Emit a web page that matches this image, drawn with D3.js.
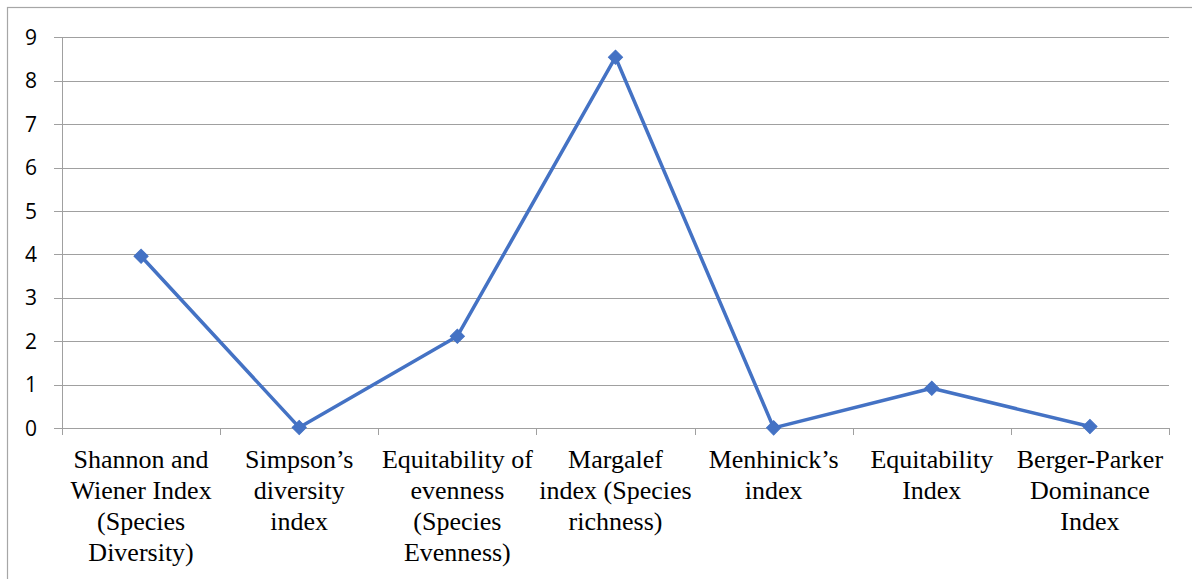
<!DOCTYPE html>
<html>
<head>
<meta charset="utf-8">
<script src="https://cdn.jsdelivr.net/npm/d3@7"></script>
<style>
  html, body { margin: 0; padding: 0; background: #fff; }
  svg { display: block; }
  .cat-label { font-family: "Liberation Serif", "DejaVu Serif", "Times New Roman", Times, serif; }
  .y-label { font-family: "Open Sans", "Liberation Sans", sans-serif; }
</style>
</head>
<body>
<svg id="chart" width="1192" height="579"></svg>
<script>
// Diversity indices and their computed values
const categories = [
  ["Shannon and", "Wiener Index", "(Species", "Diversity)"],
  ["Simpson\u2019s", "diversity", "index"],
  ["Equitability of", "evenness", "(Species", "Evenness)"],
  ["Margalef", "index (Species", "richness)"],
  ["Menhinick\u2019s", "index"],
  ["Equitability", "Index"],
  ["Berger-Parker", "Dominance", "Index"]
];
const values = [3.96, 0.02, 2.12, 8.54, 0.01, 0.92, 0.04];
const yTicks = [0, 1, 2, 3, 4, 5, 6, 7, 8, 9];

const svg = d3.select("#chart");
const W = 1192, H = 579;
const plot = { left: 62, right: 1169, top: 37.2, bottom: 428.3 };

// outer frame (left and top edges visible)
svg.append("rect")
  .attr("x", 7.5).attr("y", 7.5)
  .attr("width", W + 10).attr("height", H + 10)
  .attr("fill", "none").attr("stroke", "#a6a6a6").attr("stroke-width", 1.2);

const idx = categories.map((d, i) => i);
const x = d3.scaleBand().domain(idx).range([plot.left, plot.right]);
const y = d3.scaleLinear().domain([0, 9]).range([plot.bottom, plot.top]);

// horizontal gridlines with small tick stubs to the left of the axis
svg.append("g")
  .selectAll("line")
  .data(yTicks)
  .join("line")
  .attr("x1", plot.left - 8).attr("x2", plot.right)
  .attr("y1", d => Math.round(y(d)) + 0.5).attr("y2", d => Math.round(y(d)) + 0.5)
  .attr("stroke", "#a0a0a0").attr("stroke-width", 1);

// y axis line
svg.append("line")
  .attr("x1", plot.left + 0.5).attr("x2", plot.left + 0.5)
  .attr("y1", Math.round(y(9))).attr("y2", Math.round(y(0)) + 0.5)
  .attr("stroke", "#a0a0a0").attr("stroke-width", 1);

// y tick labels
svg.append("g")
  .selectAll("text")
  .data(yTicks)
  .join("text")
  .attr("class", "y-label")
  .attr("x", 37)
  .attr("y", d => y(d))
  .attr("dy", "0.36em")
  .attr("text-anchor", "end")
  .attr("font-size", 21)
  .attr("fill", "#000")
  .text(d => d);

// category boundary ticks below the baseline
const bounds = idx.map(i => x(i)).concat([plot.right]);
svg.append("g")
  .selectAll("line")
  .data(bounds)
  .join("line")
  .attr("x1", d => Math.round(d) + 0.5).attr("x2", d => Math.round(d) + 0.5)
  .attr("y1", Math.round(y(0))).attr("y2", Math.round(y(0)) + 7)
  .attr("stroke", "#a0a0a0").attr("stroke-width", 1);

// category labels, multi-line serif
const labelG = svg.append("g")
  .attr("class", "cat-label")
  .attr("font-size", 26)
  .attr("fill", "#000")
  .attr("text-anchor", "middle");
categories.forEach((lines, i) => {
  const t = labelG.append("text")
    .attr("class", "cat-label")
    .attr("x", x(i) + x.bandwidth() / 2)
    .attr("y", 468);
  lines.forEach((ln, j) => {
    t.append("tspan")
      .attr("x", x(i) + x.bandwidth() / 2)
      .attr("y", 468 + j * 31)
      .text(ln);
  });
});

// data line
const cx = i => x(i) + x.bandwidth() / 2;
const line = d3.line().x((d, i) => cx(i)).y(d => y(d));
svg.append("path")
  .datum(values)
  .attr("d", line)
  .attr("fill", "none")
  .attr("stroke", "#4472C4")
  .attr("stroke-width", 3.5)
  .attr("stroke-linejoin", "round");

// diamond markers
const diamond = d3.symbol().type(d3.symbolSquare).size(100);
svg.append("g")
  .selectAll("path")
  .data(values)
  .join("path")
  .attr("d", diamond)
  .attr("transform", (d, i) => `translate(${cx(i)},${y(d)}) rotate(45)`)
  .attr("fill", "#4472C4")
  .attr("stroke", "#4472C4")
  .attr("stroke-width", 1);
</script>
</body>
</html>
